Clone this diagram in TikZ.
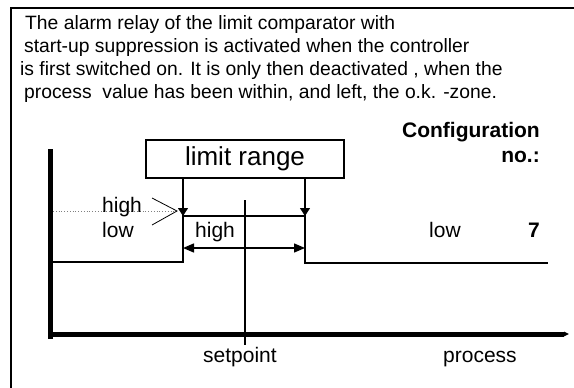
\documentclass[tikz,border=0pt]{standalone}
\usepackage{fontspec}
\setmainfont{Liberation Sans}
\usetikzlibrary{arrows.meta, positioning}

\begin{document}
\begin{tikzpicture}[
    x=1pt, y=-1pt,
    every node/.style={inner sep=0pt, font=\fontsize{21}{25}\selectfont},
    bodytext/.style={anchor=base west, font=\fontsize{19.3}{23}\selectfont},
    label/.style={anchor=base west},
    boldlabel/.style={anchor=base east, font=\fontsize{21}{25}\selectfont\bfseries},
    rangebox/.style={draw, line width=1.5pt, minimum width=198pt, minimum height=38pt,
        font=\fontsize{26}{30}\selectfont},
    signal/.style={line width=2pt},
    axis/.style={line width=5pt},
    marker/.style={-{Triangle[width=10pt, length=8pt]}, line width=1.2pt},
    span/.style={{Triangle[width=9pt, length=11pt]}-{Triangle[width=9pt, length=11pt]}, line width=1.5pt}
]
\useasboundingbox (0,0) rectangle (574,388);

% frame
\draw[line width=1.5pt] (11,388) -- (11,8) -- (574,8);

% description
\node[bodytext] (line1) at (25,29.5) {The alarm relay of the limit comparator with};
\node[bodytext] (line2) at (24,52.5) {start-up suppression is activated when the controller};
\node[bodytext] (line3) at (20,75.5) {is first switched on. It is only then deactivated , when the};
\node[bodytext] (line4) at (24,98.5) {process\ \ value has been within, and left, the o.k. -zone.};
\node[boldlabel] (config) at (540,137) {Configuration};
\node[boldlabel] (confno) at (540,162) {no.:};

% limit range
\node[rangebox] (range) at (245,159) {limit range};
\coordinate (lo) at (183,216);
\coordinate (hi) at (305,216);
\draw[marker] (range.south -| lo) -- (lo);
\draw[marker] (range.south -| hi) -- (hi);

% axes
\coordinate (origin) at (50,334);
\coordinate (ytop) at (50,149);
\coordinate (xend) at (569,334);
\draw[axis] (ytop) -- (50,339);
\draw[axis, -{Triangle[width=4.5pt, length=5pt]}] (origin) -- (xend);

% relay signal
\coordinate (start) at (50,262);
\coordinate (stop) at (548,263);
\draw[signal] (start) -| (lo) -- (hi) |- (stop);
\draw[span] (183,248) coordinate (spanl) -- (305,248) coordinate (spanr);

% setpoint
\coordinate (sptop) at (245,200);
\coordinate (spbot) at (245,345);
\draw[line width=2pt] (sptop) -- (spbot);

% hysteresis mark
\coordinate (tip) at (177,211);
\draw[dotted, gray, line width=0.8pt] (53,211) -- (tip);
\draw[line width=0.8pt] (152,198) -- (tip) -- (152,225);

% labels
\node[label] (hileft) at (102,212) {high};
\node[label] (loleft) at (102,237) {low};
\node[label] (himid) at (195,237) {high};
\node[label] (loright) at (429,237) {low};
\node[boldlabel] (cfg) at (540,237) {7};
\node[label] (sp) at (203,362) {setpoint};
\node[label] (pv) at (443,362) {process};
\end{tikzpicture}
\end{document}
